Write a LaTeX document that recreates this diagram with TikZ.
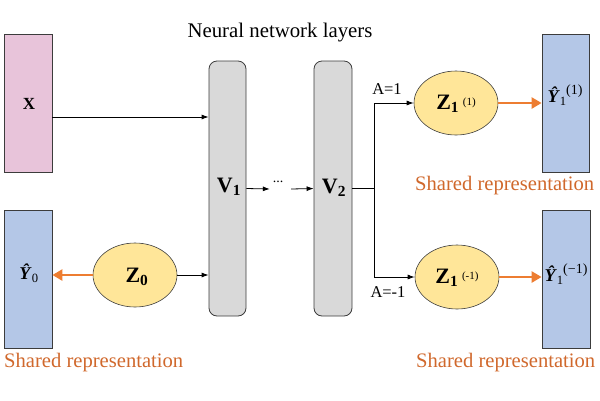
\documentclass[tikz,border=0pt]{standalone}
\usepackage{fontspec}
\setmainfont{Liberation Serif}
\usetikzlibrary{arrows.meta,shapes.geometric}
\definecolor{pinkbox}{RGB}{232,196,218}
\definecolor{bluebox}{RGB}{180,199,231}
\definecolor{graybox}{RGB}{217,217,217}
\definecolor{yellowell}{RGB}{255,230,153}
\definecolor{orarrow}{RGB}{237,125,49}
\definecolor{ortext}{RGB}{208,104,44}
\definecolor{edge}{RGB}{60,60,60}
\begin{document}
\begin{tikzpicture}[x=1pt,y=-1pt,
  databox/.style={draw=edge,line width=0.8pt,rectangle,inner sep=0pt},
  layerbox/.style={draw=edge,line width=0.8pt,fill=graybox,rectangle,rounded corners=8pt,inner sep=0pt,minimum width=37pt,minimum height=255pt},
  latent/.style={draw=edge,line width=0.6pt,fill=yellowell,ellipse,inner sep=0pt,minimum width=84pt,minimum height=64pt},
  thinarrow/.style={line width=0.8pt,-{Latex[length=7pt,width=5pt]}},
  thickarrow/.style={draw=orarrow,line width=2.6pt,-{Triangle[length=10pt,width=11pt]}},
  shared/.style={text=ortext,font=\fontsize{20.6}{23}\selectfont,inner sep=0pt,anchor=west},
  alabel/.style={font=\fontsize{16.5}{18}\selectfont,inner sep=0pt}
]
\useasboundingbox (0,0) rectangle (600,400);

\node[font=\fontsize{20.8}{23}\selectfont,inner sep=0pt] (title) at (280,33) {Neural network layers};

\node[databox,fill=pinkbox,minimum width=48pt,minimum height=138pt] (X) at (28,103) {};
\node[font=\fontsize{17}{18}\selectfont\bfseries] (Xl) at (29,104) {X};

\node[databox,fill=bluebox,minimum width=48pt,minimum height=138pt] (Y0) at (28,279) {};
\node[font=\fontsize{18}{20}\selectfont] (Y0l) at (29,273) {\textbf{\textit{Ŷ}}\textsubscript{0}};

\node[layerbox] (V1) at (227.5,188.5) {};
\node[font=\fontsize{22}{24}\selectfont\bfseries] (V1l) at (229,187) {V\textsubscript{1}};
\node[layerbox,minimum width=38pt] (V2) at (333,188.5) {};
\node[font=\fontsize{22}{24}\selectfont\bfseries] (V2l) at (334,188) {V\textsubscript{2}};

\node[inner sep=0pt,minimum width=21pt,minimum height=8pt] (dots) at (280.5,189) {};
\node[font=\fontsize{14}{14}\selectfont,inner sep=0pt] (dotsl) at (278,182) {...};

\node[latent] (Z0) at (135,275) {};
\node[font=\fontsize{22}{24}\selectfont\bfseries] (Z0l) at (137,277) {Z\textsubscript{0}};

\node[latent] (Z1a) at (456,103) {};
\node[font=\fontsize{22}{24}\selectfont] (Z1al) at (456,104) {\textbf{Z}\textsubscript{\textbf{1}}\,\raisebox{4pt}{\fontsize{11}{12}\selectfont(1)}};
\node[latent] (Z1b) at (457,277) {};
\node[font=\fontsize{22}{24}\selectfont] (Z1bl) at (457,278) {\textbf{Z}\textsubscript{\textbf{1}}\,\raisebox{4pt}{\fontsize{11}{12}\selectfont(-1)}};

\node[databox,fill=bluebox,minimum width=47pt,minimum height=138pt] (Y1a) at (565.5,103) {};
\node[font=\fontsize{18}{20}\selectfont] (Y1al) at (565,95) {\textbf{\textit{Ŷ}}\textsubscript{1}\kern-0.5pt\raisebox{8pt}{\fontsize{14}{15}\selectfont(1)}};
\node[databox,fill=bluebox,minimum width=48pt,minimum height=138pt] (Y1b) at (566,279) {};
\node[font=\fontsize{18}{20}\selectfont] (Y1bl) at (566,274) {\textbf{\textit{Ŷ}}\textsubscript{1}\kern-0.5pt\raisebox{8pt}{\fontsize{14}{15}\selectfont(−1)}};

\node[shared] (s0) at (4,363) {Shared representation};
\node[shared] (s1) at (415,186) {Shared representation};
\node[shared] (s2) at (416,363) {Shared representation};

\node[alabel] (A1) at (387,89) {A=1};
\node[alabel] (A2) at (388,292) {A=-1};

\coordinate (br) at ([xshift=22pt]V2.east);

\draw[thinarrow] ([yshift=-14pt]X.east) -- ([yshift=-14pt]X.east -| V1.west);
\draw[thinarrow] (Z0.east) -- (Z0.east -| V1.west);
\draw[thickarrow] (Z0.west) -- (Z0.west -| Y0.east);
\draw[thinarrow] (V1.east) -- (dots.west);
\draw[thinarrow] (dots.east) -- (V2.west);
\draw[line width=0.8pt] (V2.east) -- (br);
\draw[thinarrow] (br) |- (Z1a.west);
\draw[thinarrow] (br) |- (Z1b.west);
\draw[thickarrow] (Z1a.east) -- (Z1a.east -| Y1a.west);
\draw[thickarrow] (Z1b.east) -- (Z1b.east -| Y1b.west);
\end{tikzpicture}
\end{document}
